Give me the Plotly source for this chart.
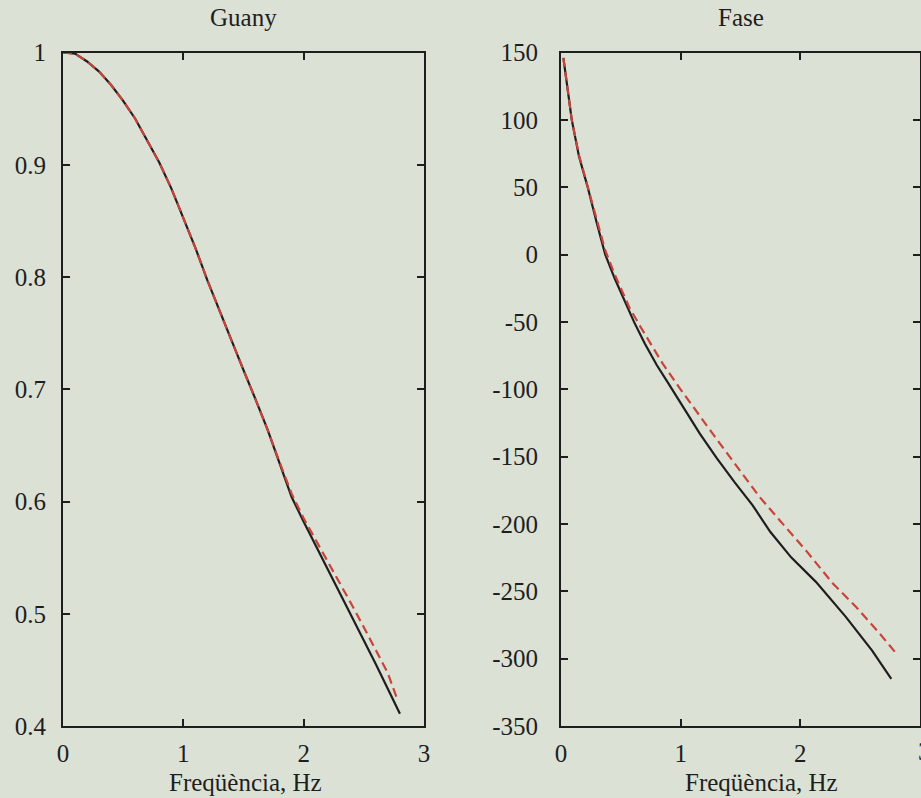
import plotly.graph_objects as go

# Gain response (magnitude ratio) vs frequency
gain_freq_meas = [0.0, 0.1, 0.2, 0.3, 0.4, 0.5, 0.6, 0.7, 0.8, 0.9, 1.0, 1.1, 1.2, 1.3,
                  1.4, 1.5, 1.6, 1.7, 1.8, 1.9, 2.0, 2.1, 2.2, 2.3, 2.4, 2.5, 2.6, 2.7, 2.8]
gain_meas = [1.0, 0.999, 0.992, 0.983, 0.971, 0.957, 0.941, 0.922, 0.902, 0.879, 0.853,
             0.826, 0.797, 0.770, 0.743, 0.717, 0.691, 0.664, 0.634, 0.604, 0.582, 0.561,
             0.540, 0.519, 0.498, 0.477, 0.455, 0.433, 0.411]

gain_freq_model = [0.0, 0.1, 0.2, 0.3, 0.4, 0.5, 0.6, 0.7, 0.8, 0.9, 1.0, 1.1, 1.2, 1.3,
                   1.4, 1.5, 1.6, 1.7, 1.8, 1.9, 2.0, 2.1, 2.2, 2.3, 2.4, 2.5, 2.6, 2.7, 2.78]
gain_model = [1.0, 0.999, 0.992, 0.983, 0.971, 0.957, 0.941, 0.922, 0.902, 0.879, 0.853,
              0.826, 0.797, 0.770, 0.743, 0.717, 0.691, 0.664, 0.635, 0.607, 0.585, 0.566,
              0.546, 0.527, 0.508, 0.488, 0.468, 0.447, 0.423]

# Phase response (degrees) vs frequency
phase_freq_meas = [0.02, 0.05, 0.09, 0.15, 0.22, 0.30, 0.37, 0.45, 0.53, 0.61, 0.70, 0.80,
                   0.90, 1.00, 1.16, 1.30, 1.45, 1.60, 1.75, 1.925, 2.13, 2.38, 2.60, 2.76]
phase_meas = [146, 126, 100, 73, 51, 23, 0, -18, -34, -50, -66, -82, -96, -110, -133,
              -151, -169, -186, -206, -225, -243, -269, -294, -315]

phase_freq_model = [0.02, 0.05, 0.09, 0.15, 0.22, 0.30, 0.37, 0.45, 0.575, 0.66, 0.72, 0.85,
                    0.99, 1.15, 1.325, 1.50, 1.66, 1.825, 1.97, 2.05, 2.27, 2.47, 2.66, 2.80]
phase_model = [146, 126, 100, 74, 52, 25, 3, -15, -40, -53, -62, -81, -99, -119, -140,
               -161, -180, -197, -212, -220, -244, -262, -281, -296]

x_ticks = [0, 1, 2, 3]
gain_ticks = [0.4, 0.5, 0.6, 0.7, 0.8, 0.9, 1.0]
gain_ticktext = ["0.4", "0.5", "0.6", "0.7", "0.8", "0.9", "1"]
phase_ticks = [150, 100, 50, 0, -50, -100, -150, -200, -250, -300, -350]
phase_ticktext = ["150", "100", "50", "0", "-50", "-100", "-150", "-200", "-250",
                  "-300", "-350"]

W, H = 921, 798
BG = "#dce1d5"
INK = "#1e1e1e"
RED = "#c9433b"
FONT = "Times New Roman, Liberation Serif, serif"
FS = 25

fig = go.Figure()

fig.add_trace(go.Scatter(x=gain_freq_meas, y=gain_meas, mode="lines",
                         line=dict(color=INK, width=2.2), xaxis="x", yaxis="y",
                         showlegend=False))
fig.add_trace(go.Scatter(x=gain_freq_model, y=gain_model, mode="lines",
                         line=dict(color=RED, width=2.2, dash="9px,5px"),
                         xaxis="x", yaxis="y", showlegend=False))
fig.add_trace(go.Scatter(x=phase_freq_meas, y=phase_meas, mode="lines",
                         line=dict(color=INK, width=2.2), xaxis="x2", yaxis="y2",
                         showlegend=False))
fig.add_trace(go.Scatter(x=phase_freq_model, y=phase_model, mode="lines",
                         line=dict(color=RED, width=2.2, dash="9px,5px"),
                         xaxis="x2", yaxis="y2", showlegend=False))

y_dom = [1 - 726 / H, 1 - 52.5 / H]

axis_common = dict(
    showline=True, linecolor=INK, linewidth=2, mirror="ticks",
    ticks="inside", ticklen=7, tickwidth=2, tickcolor=INK,
    showgrid=False, zeroline=False, automargin=False,
    tickfont=dict(family=FONT, size=FS, color=INK),
)


def label(text, px, py):
    return dict(text=text, x=px / W, y=1 - py / H, xref="paper", yref="paper",
                xanchor="center", yanchor="middle",
                showarrow=False, font=dict(family=FONT, size=FS, color=INK))


fig.update_layout(
    width=W, height=H,
    margin=dict(l=0, r=0, t=0, b=0),
    paper_bgcolor=BG, plot_bgcolor=BG,
    xaxis=dict(domain=[63 / W, 424 / W], range=[0, 3], tickvals=x_ticks,
               anchor="y", ticklabelstandoff=4, **axis_common),
    yaxis=dict(domain=y_dom, range=[0.4, 1.0], tickvals=gain_ticks,
               ticktext=gain_ticktext, anchor="x", ticklabelstandoff=10,
               **axis_common),
    xaxis2=dict(domain=[561 / W, 920 / W], range=[0, 3], tickvals=x_ticks,
                anchor="y2", ticklabelstandoff=4, **axis_common),
    yaxis2=dict(domain=y_dom, range=[-350, 150], tickvals=phase_ticks,
                ticktext=phase_ticktext, anchor="x2", ticklabelstandoff=16,
                **axis_common),
    annotations=[
        label("Guany", 243, 18),
        label("Fase", 741, 18),
        label("Freqüència, Hz", 245, 782),
        label("Freqüència, Hz", 761, 782),
        # last tick label of the phase panel sits on the page edge
        label("3", 924, 751),
    ],
)

fig.write_html("out.html")
